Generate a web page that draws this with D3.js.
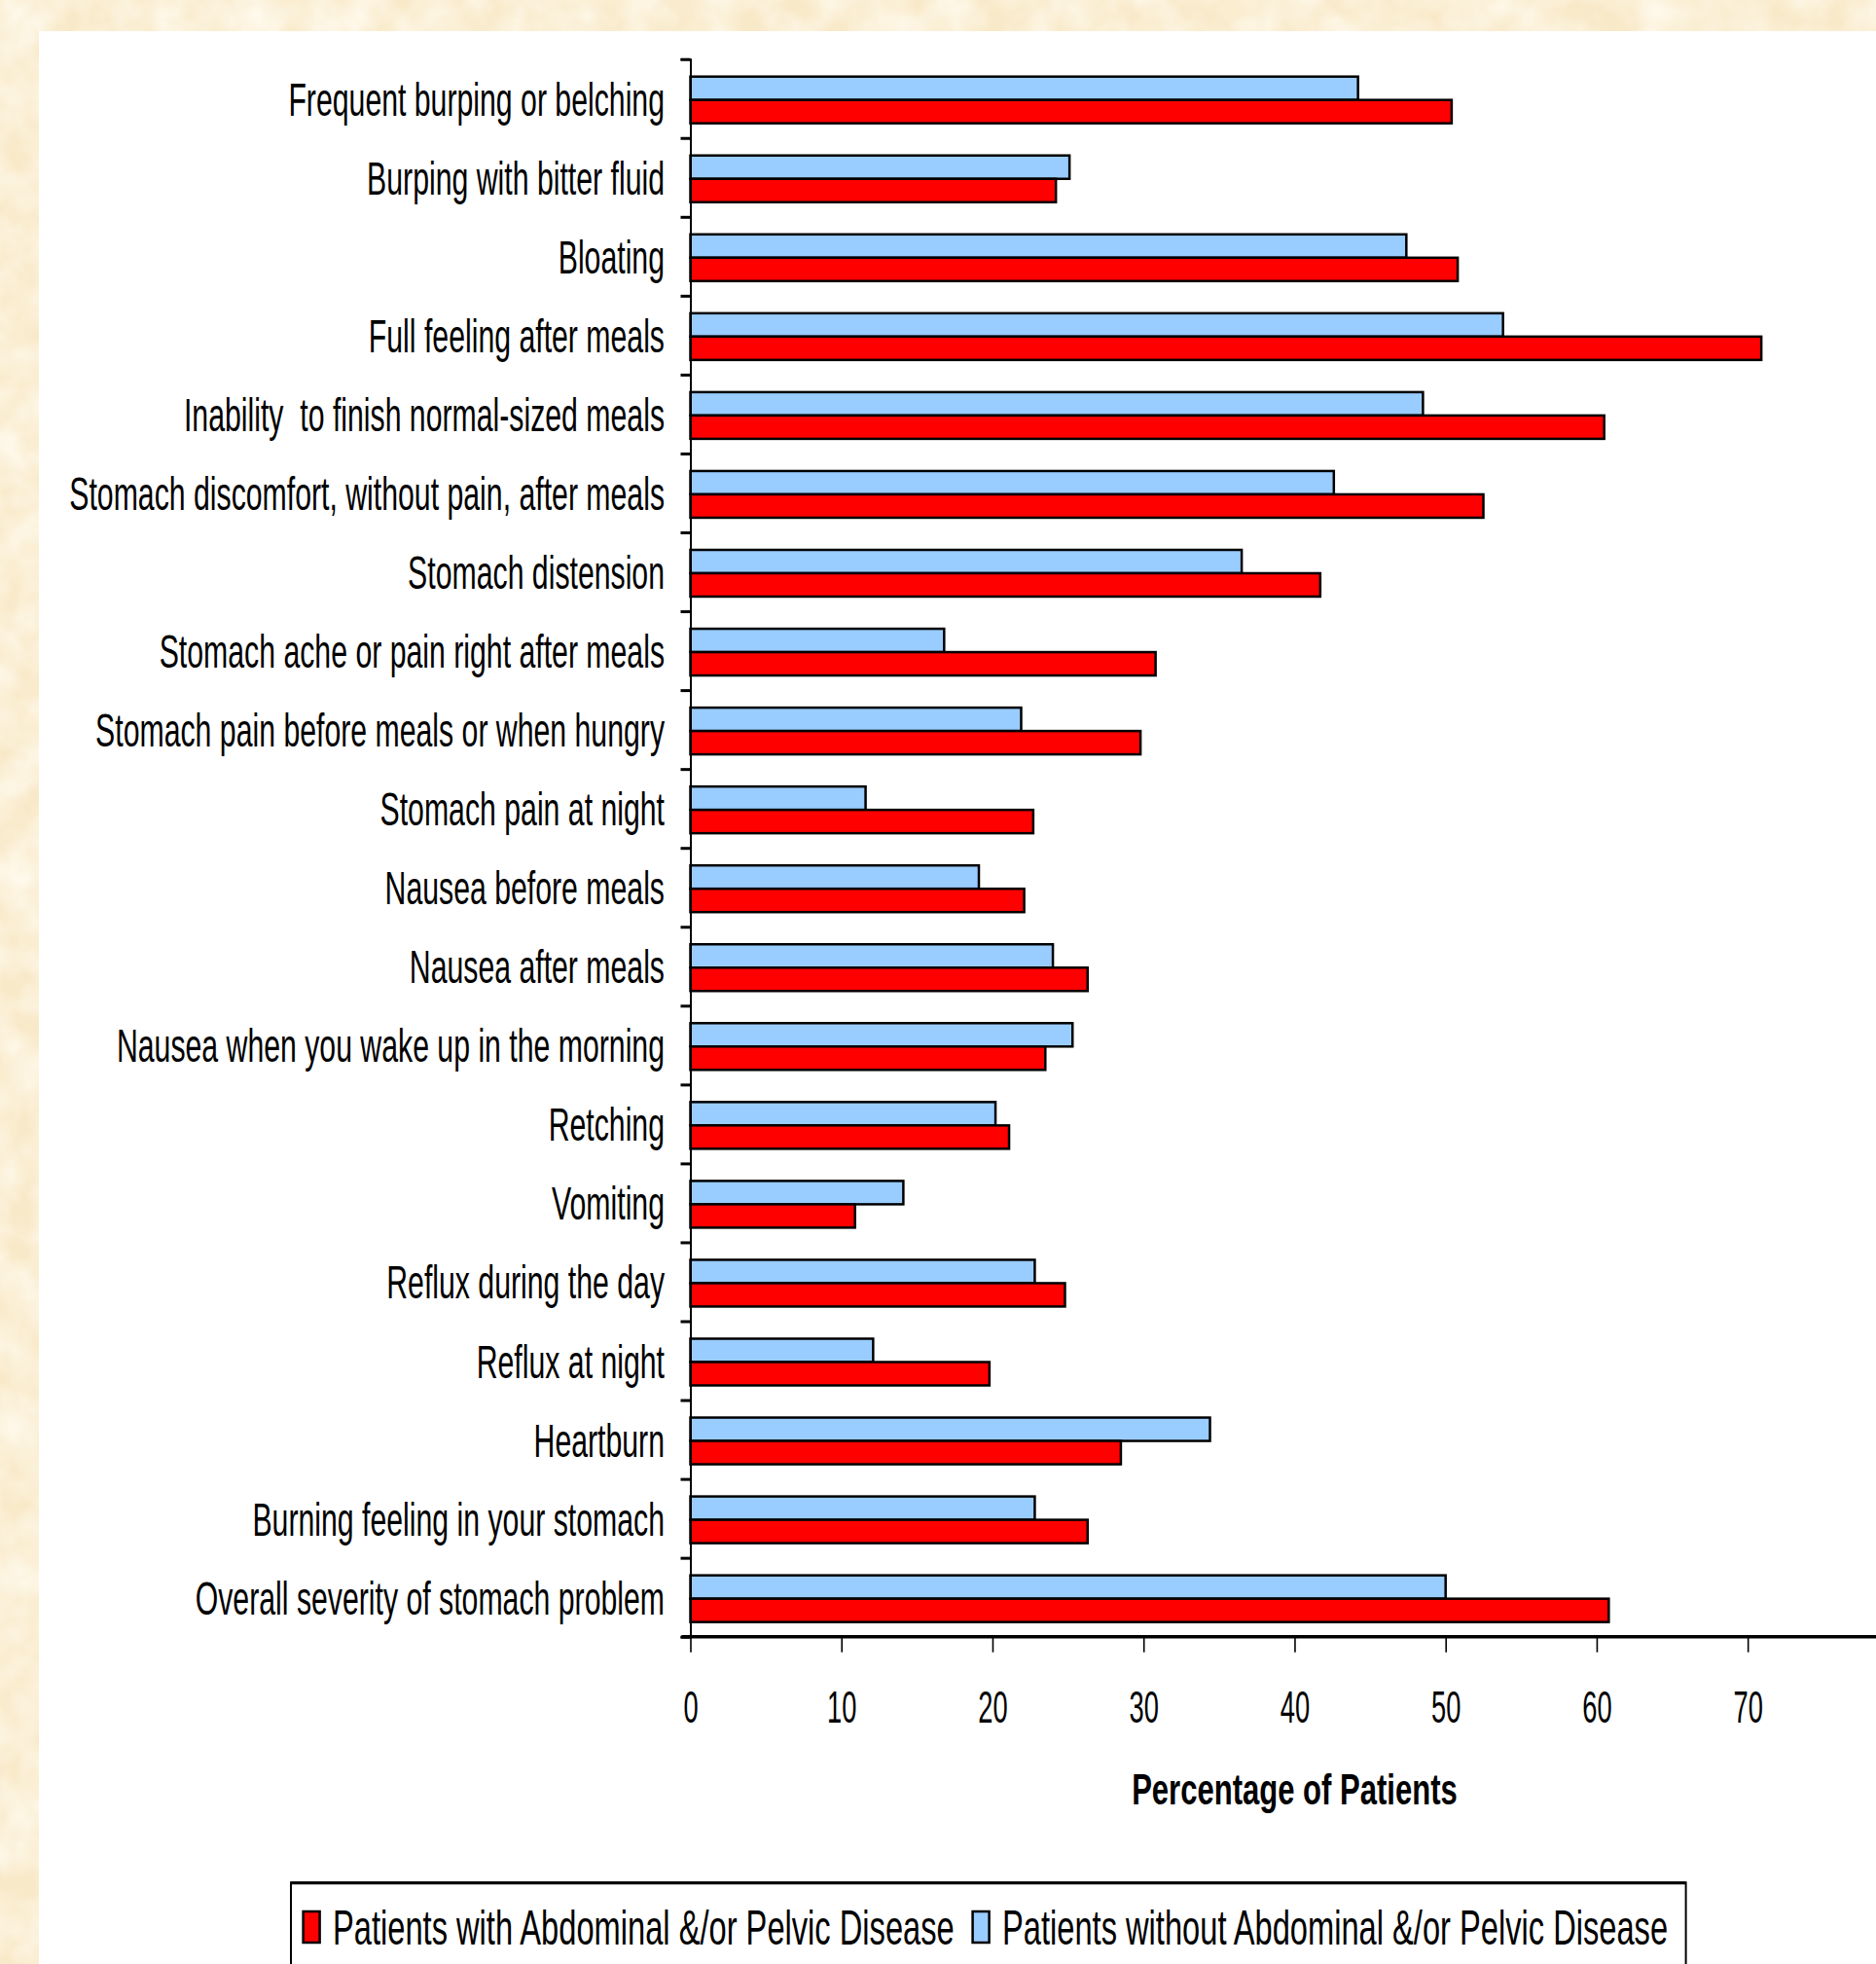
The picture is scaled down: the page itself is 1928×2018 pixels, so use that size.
<!DOCTYPE html>
<html>
<head>
<meta charset="utf-8">
<script src="https://cdn.jsdelivr.net/npm/d3@7"></script>
<style>
  html, body { margin: 0; padding: 0; background: #f9ecd0; }
  svg { display: block; }
  text { font-family: "Liberation Sans", Arial, sans-serif; fill: #000; }
</style>
</head>
<body>
<svg id="chart" width="1928" height="2018"></svg>
<script>
// ---------- data ----------
const categories = [
  "Frequent burping or belching",
  "Burping with bitter fluid",
  "Bloating",
  "Full feeling after meals",
  "Inability  to finish normal-sized meals",
  "Stomach discomfort, without pain, after meals",
  "Stomach distension",
  "Stomach ache or pain right after meals",
  "Stomach pain before meals or when hungry",
  "Stomach pain at night",
  "Nausea before meals",
  "Nausea after meals",
  "Nausea when you wake up in the morning",
  "Retching",
  "Vomiting",
  "Reflux during the day",
  "Reflux at night",
  "Heartburn",
  "Burning feeling in your stomach",
  "Overall severity of stomach problem"
];
const withDisease = [50.4, 24.2, 50.8, 70.9, 60.5, 52.5, 41.7, 30.8, 29.8, 22.7,
                     22.1, 26.3, 23.5, 21.1, 10.9, 24.8, 19.8, 28.5, 26.3, 60.8];
const withoutDisease = [44.2, 25.1, 47.4, 53.8, 48.5, 42.6, 36.5, 16.8, 21.9, 11.6,
                        19.1, 24.0, 25.3, 20.2, 14.1, 22.8, 12.1, 34.4, 22.8, 50.0];
const seriesNames = ["Patients with Abdominal &/or Pelvic Disease",
                     "Patients without Abdominal &/or Pelvic Disease"];
const seriesColors = ["#ff0000", "#99ccff"];
const xTickValues = [0, 10, 20, 30, 40, 50, 60, 70];
const xDomainMax = 80;
const xTitle = "Percentage of Patients";

// ---------- layout ----------
const svg = d3.select("#chart");
const W = 1928, H = 2018;
const plotLeft = 709.5, plotTop = 60.7, plotBottom = 1681.7;
const xRangeEnd = 1951.4;

// textured background
const defs = svg.append("defs");
const f = defs.append("filter").attr("id", "paper").attr("x", 0).attr("y", 0).attr("width", "100%").attr("height", "100%");
f.append("feTurbulence").attr("type", "fractalNoise").attr("baseFrequency", "0.025").attr("numOctaves", 3).attr("seed", 4).attr("result", "n");
f.append("feColorMatrix").attr("in", "n").attr("type", "matrix")
  .attr("values", "0 0 0 0 1.0  0 0 0 0 0.95  0 0 0 0 0.84  0 0 0 -1.6 1.2");
svg.append("rect").attr("width", W).attr("height", H).attr("fill", "#f8e9c8");
svg.append("rect").attr("width", W).attr("height", H).attr("filter", "url(#paper)");

// white panel
svg.append("rect").attr("x", 40).attr("y", 32).attr("width", W - 40).attr("height", H - 32).attr("fill", "#ffffff");

// scales
const x = d3.scaleLinear().domain([0, xDomainMax]).range([plotLeft, xRangeEnd]);
const y = d3.scaleBand().domain(categories).range([plotTop, plotBottom]).padding(0);
const ySub = d3.scaleBand().domain(["without", "with"]).range([18, 66]);
const yEdges = d3.scaleLinear().domain([0, categories.length]).range([plotTop, plotBottom]);

// bars
const rows = categories.map((c, i) => ({ c, with: withDisease[i], without: withoutDisease[i] }));
const g = svg.append("g");
const groups = g.selectAll("g.row").data(rows).join("g").attr("class", "row")
  .attr("transform", d => `translate(0,${y(d.c)})`);
groups.append("rect")
  .attr("x", x(0)).attr("y", ySub("without"))
  .attr("width", d => x(d.without) - x(0)).attr("height", ySub.bandwidth())
  .attr("fill", seriesColors[1]).attr("stroke", "#000").attr("stroke-width", 2.5);
groups.append("rect")
  .attr("x", x(0)).attr("y", ySub("with"))
  .attr("width", d => x(d.with) - x(0)).attr("height", ySub.bandwidth())
  .attr("fill", seriesColors[0]).attr("stroke", "#000").attr("stroke-width", 2.5);

// y axis (category boundary ticks)
const yAxisG = svg.append("g").attr("transform", `translate(${plotLeft},0)`)
  .call(d3.axisLeft(yEdges).ticks(categories.length).tickSize(10).tickFormat(""));
yAxisG.select(".domain").attr("stroke", "#000").attr("stroke-width", 2);
yAxisG.selectAll(".tick line").attr("stroke", "#000").attr("stroke-width", 3);

// category labels
const labelAxis = svg.append("g").attr("transform", `translate(${plotLeft},0)`)
  .call(d3.axisLeft(y).tickSize(0));
labelAxis.select(".domain").remove();
labelAxis.selectAll(".tick text")
  .attr("x", 0).attr("dy", null)
  .attr("transform", "translate(-26.5,17.5) scale(0.63,1)")
  .attr("text-anchor", "end")
  .style("white-space", "pre")
  .style("font-size", "48px").style("font-family", '"Liberation Sans", Arial, sans-serif');

// x axis
const xAxisG = svg.append("g").attr("transform", `translate(0,${plotBottom})`)
  .call(d3.axisBottom(x).tickValues(xTickValues).tickSize(16).tickFormat(d3.format("d")));
xAxisG.select(".domain").attr("stroke", "#000").attr("stroke-width", 3.5)
  .attr("d", `M${plotLeft - 9},0H${xRangeEnd}`);
xAxisG.selectAll(".tick line").attr("stroke", "#000").attr("stroke-width", 1.6);
xAxisG.selectAll(".tick text")
  .attr("y", 0).attr("dy", null)
  .attr("transform", "translate(0,88.3) scale(0.58,1)")
  .style("font-size", "47px").style("font-family", '"Liberation Sans", Arial, sans-serif');

// x axis title
svg.append("text")
  .attr("transform", `translate(${x(xDomainMax / 2)},1854) scale(0.69,1)`)
  .attr("text-anchor", "middle")
  .style("font-size", "45px").style("font-weight", "bold")
  .text(xTitle);

// legend
const legend = svg.append("g");
legend.append("rect").attr("x", 299).attr("y", 1934.3).attr("width", 1433.6).attr("height", 120)
  .attr("fill", "#fff").attr("stroke", "#000").attr("stroke-width", 2);
legend.append("line").attr("x1", 299).attr("x2", 1732.6).attr("y1", 1934.8).attr("y2", 1934.8)
  .attr("stroke", "#000").attr("stroke-width", 3);
const legendX = [311.6, 999.6];
const items = legend.selectAll("g.item").data(seriesNames.map((n, i) => ({ n, c: seriesColors[i], x: legendX[i] })))
  .join("g").attr("class", "item").attr("transform", d => `translate(${d.x},0)`);
items.append("rect").attr("x", 0).attr("y", 1964).attr("width", 17).attr("height", 32)
  .attr("fill", d => d.c).attr("stroke", "#000").attr("stroke-width", 2.5);
items.append("text")
  .attr("transform", "translate(30.4,1998.3) scale(0.653,1)")
  .style("font-size", "50px")
  .text(d => d.n);
</script>
</body>
</html>
